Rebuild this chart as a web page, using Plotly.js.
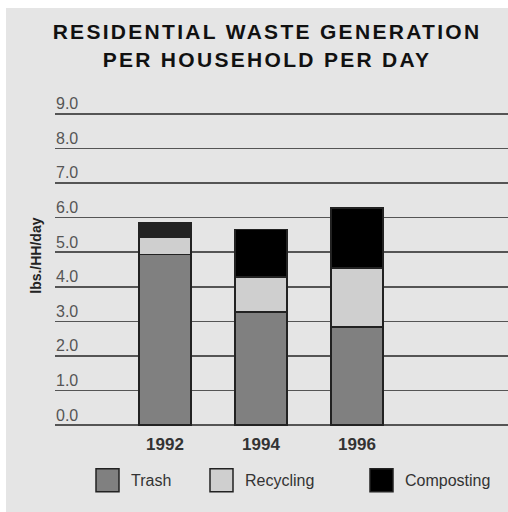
<!DOCTYPE html>
<html>
<head>
<meta charset="utf-8">
<script src="https://cdn.plot.ly/plotly-3.0.1.min.js"></script>
<style>
	body { margin: 0; background: #ffffff; }
	#chart { position: absolute; left: 6px; top: 8px; width: 502px; height: 504px; }
	#chart .gtitle { letter-spacing: 2.3px; }
</style>
</head>
<body>
<div id="chart"></div>
<script>
// data
const years = ["1992", "1994", "1996"];
const trash = [4.94, 3.27, 2.84];
const recycling = [0.48, 1.02, 1.70];
const composting = [0.43, 1.37, 1.73];

const seriesNames = ["Trash", "Recycling", "Composting"];
const seriesColors = ["#808080", "#cfcfcf", "#000000"];
const yTicks = [0, 1, 2, 3, 4, 5, 6, 7, 8, 9];

const font = "Liberation Sans, Arial, sans-serif";

function makeBar(name, values, color) {
	return {
		type: "bar",
		name: name,
		x: years,
		y: values,
		width: 0.54,
		marker: { color: color, line: { color: "#222222", width: 1.5 } },
		showlegend: false,
		hoverinfo: "skip",
	};
}

let traces = [
	makeBar(seriesNames[0], trash, seriesColors[0]),
	makeBar(seriesNames[1], recycling, seriesColors[1]),
	// the 1992 composting block is a bit lighter in the original
	makeBar(seriesNames[2], composting, ["#222222", seriesColors[2], seriesColors[2]]),
];

// plot area in pixels inside the div; the y range is a bit wider than 0..9
// so the 0.0 grid line and the 9.0 label are both kept
const yBottom = -0.08, yTop = 9.6;
const zeroPx = 504 - 86.5;           // pixel row of the 0.0 line
const unit = 311.5 / 9;
const plotL = 49, plotW = 453;
const plotB = 86.5 + yBottom * unit;
const plotH = (yTop - yBottom) * unit;
const plotT = 504 - plotB - plotH;
function px2x(px) { return (px - plotL) / plotW; }
function px2y(py) { return (504 - plotB - py) / plotH; }

const legendBoxX = [90, 204, 364];
let shapes = [];
let annotations = [];
seriesNames.forEach((name, i) => {
	shapes.push({
		type: "rect",
		xref: "paper", yref: "paper",
		x0: px2x(legendBoxX[i]), x1: px2x(legendBoxX[i] + 23),
		y0: px2y(484), y1: px2y(461),
		fillcolor: seriesColors[i],
		line: { color: "#222222", width: 1.5 },
	});
	annotations.push({
		xref: "paper", yref: "paper",
		x: px2x(legendBoxX[i] + 33), y: px2y(473),
		xanchor: "left", yanchor: "middle",
		text: name, showarrow: false,
		font: { family: font, size: 16, color: "#333333" },
	});
});

annotations.push({
	xref: "paper", yref: "paper",
	x: px2x(30), y: px2y(248),
	xanchor: "center", yanchor: "middle",
	text: "<b>lbs./HH/day</b>", textangle: -90, showarrow: false,
	font: { family: font, size: 14, color: "#222222" },
});

let layout = {
	width: 502,
	height: 504,
	margin: { l: plotL, r: 0, t: plotT, b: plotB },
	paper_bgcolor: "#e5e5e5",
	plot_bgcolor: "#e5e5e5",
	barmode: "stack",
	title: {
		text: "<b>RESIDENTIAL WASTE GENERATION<br>PER HOUSEHOLD PER DAY</b>",
		x: 0.52,
		xanchor: "center",
		y: 0.938,
		yanchor: "middle",
		font: { family: font, size: 21, color: "#111111" },
	},
	xaxis: {
		type: "category",
		range: [-1.146, 3.573],
		showgrid: false,
		zeroline: false,
		showline: false,
		ticks: "",
		ticklabelstandoff: 4,
		tickfont: { family: font, size: 17, color: "#333333", weight: "bold" },
	},
	yaxis: {
		range: [yBottom, yTop],
		tickvals: yTicks,
		ticktext: yTicks.map(v => v.toFixed(1)),
		ticklabelposition: "inside top",
		ticklabelshift: 1,
		ticklabelstandoff: -2,
		tickfont: { family: font, size: 16, color: "#555555" },
		showgrid: true,
		gridcolor: "#555555",
		gridwidth: 1.6,
		zeroline: false,
		showline: false,
		ticks: "",
	},
	shapes: shapes,
	annotations: annotations,
	showlegend: false,
};

Plotly.newPlot("chart", traces, layout, { staticPlot: true });
</script>
</body>
</html>
